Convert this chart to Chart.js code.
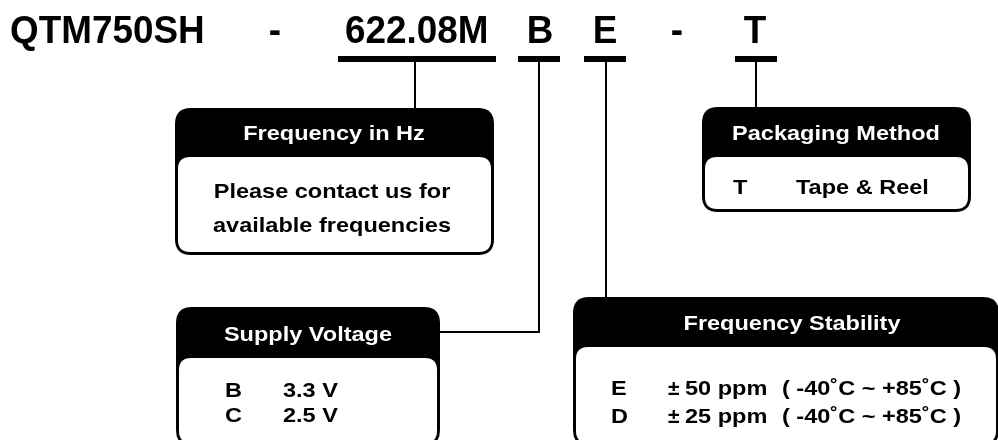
<!DOCTYPE html>
<html>
<head>
<meta charset="utf-8">
<script src="https://cdn.jsdelivr.net/npm/chart.js@4"></script>
<style>
  html, body { margin: 0; padding: 0; background: #fff; }
  #wrap { width: 998px; height: 440px; position: relative; }
</style>
</head>
<body>
<div id="wrap"><canvas id="partChart"></canvas></div>
<script>
// part number pieces
const titleParts = ["QTM750SH", "-", "622.08M", "B", "E", "-", "T"];
const boxTitles = ["Frequency in Hz", "Packaging Method", "Supply Voltage", "Frequency Stability"];
const frequencyNote = ["Please contact us for", "available frequencies"];
const packagingCodes = ["T"];
const packagingNames = ["Tape & Reel"];
const voltageCodes = ["B", "C"];
const voltageValues = [3.3, 2.5];
const stabilityCodes = ["E", "D"];
const stabilityPpm = [50, 25];
const tempRange = [-40, 85];

// geometry, in axis units (x 0..998, y 0..440 from the top)
const layout = {
  titleY: 43,
  titleX: [10, 275, 345, 540, 605, 677, 755],
  titleAlign: ["left", "center", "left", "center", "center", "center", "center"],
  barY: 59,
  bars: [[338, 496], [518, 560], [584, 626], [735, 777]],
  connectors: [
    [[415, 59], [415, 108]],
    [[539, 59], [539, 332], [440, 332]],
    [[606, 59], [606, 297]],
    [[756, 59], [756, 107]]
  ],
  boxes: [
    { x0: 175, x1: 494, y0: 108, yh: 157, y1: 255, cx: 334 },
    { x0: 702, x1: 971, y0: 107, yh: 157, y1: 212, cx: 836 },
    { x0: 176, x1: 440, y0: 307, yh: 358, y1: 446, cx: 308 },
    { x0: 573, x1: 999, y0: 297, yh: 347, y1: 446, cx: 792 }
  ]
};

const FONT = '"Liberation Sans", Arial, sans-serif';

function fmtTemp(v) {
  return (v > 0 ? "+" : "") + v + "˚C";
}

function pathRound(ctx, x, y, w, h, r) {
  ctx.beginPath();
  ctx.moveTo(x + r, y);
  ctx.lineTo(x + w - r, y);
  ctx.quadraticCurveTo(x + w, y, x + w, y + r);
  ctx.lineTo(x + w, y + h - r);
  ctx.quadraticCurveTo(x + w, y + h, x + w - r, y + h);
  ctx.lineTo(x + r, y + h);
  ctx.quadraticCurveTo(x, y + h, x, y + h - r);
  ctx.lineTo(x, y + r);
  ctx.quadraticCurveTo(x, y, x + r, y);
  ctx.closePath();
}

function text(ctx, str, x, y, opts) {
  const o = Object.assign({ size: 21, sx: 1.12, align: "left", color: "#000" }, opts);
  ctx.save();
  ctx.translate(x, y);
  ctx.scale(o.sx, 1);
  ctx.font = "bold " + o.size + "px " + FONT;
  ctx.fillStyle = o.color;
  ctx.textAlign = o.align;
  ctx.textBaseline = "alphabetic";
  ctx.fillText(str, 0, 0);
  ctx.restore();
}

const diagramPlugin = {
  id: "diagram",
  afterDraw(chart) {
    const ctx = chart.ctx;
    const xs = chart.scales.x, ys = chart.scales.y;
    const px = v => xs.getPixelForValue(v);
    const py = v => ys.getPixelForValue(v);

    // part number line
    titleParts.forEach((t, i) => {
      text(ctx, t, px(layout.titleX[i]), py(layout.titleY), { size: 38, sx: 0.97, align: layout.titleAlign[i] });
    });

    // boxes
    layout.boxes.forEach((b, i) => {
      const x0 = px(b.x0), x1 = px(b.x1), y0 = py(b.y0), yh = py(b.yh), y1 = py(b.y1);
      ctx.fillStyle = "#000";
      pathRound(ctx, x0, y0, x1 - x0, y1 - y0, 16);
      ctx.fill();
      ctx.fillStyle = "#fff";
      pathRound(ctx, x0 + 3, yh, x1 - x0 - 6, y1 - yh - 3, 12);
      ctx.fill();
      text(ctx, boxTitles[i], px(b.cx), yh - 17, { color: "#fff", align: "center" });
    });

    // frequency note
    frequencyNote.forEach((line, i) => {
      text(ctx, line, px(332), py(198 + i * 34), { align: "center" });
    });

    // packaging
    packagingCodes.forEach((c, i) => {
      text(ctx, c, px(733), py(194 + i * 26));
      text(ctx, packagingNames[i], px(796), py(194 + i * 26));
    });

    // supply voltage
    voltageCodes.forEach((c, i) => {
      text(ctx, c, px(225), py(397 + i * 25));
      text(ctx, voltageValues[i].toFixed(1) + " V", px(283), py(397 + i * 25));
    });

    // stability
    const range = "( " + (tempRange[0] + "˚C") + " ~ " + fmtTemp(tempRange[1]) + " )";
    stabilityCodes.forEach((c, i) => {
      const y = py(395 + i * 28);
      text(ctx, c, px(611), y);
      text(ctx, "±", px(668), y, { sx: 1.0 });
      text(ctx, stabilityPpm[i] + " ppm", px(685), y);
      text(ctx, range, px(782), y);
    });
  }
};

const datasets = [];
layout.bars.forEach(b => {
  datasets.push({
    data: [{ x: b[0], y: layout.barY }, { x: b[1], y: layout.barY }],
    showLine: true, borderColor: "#000", borderWidth: 6, borderCapStyle: "butt",
    pointRadius: 0
  });
});
layout.connectors.forEach(c => {
  datasets.push({
    data: c.map(p => ({ x: p[0], y: p[1] })),
    showLine: true, borderColor: "#000", borderWidth: 2, borderCapStyle: "butt",
    borderJoinStyle: "miter", pointRadius: 0
  });
});

new Chart(document.getElementById("partChart"), {
  type: "scatter",
  data: { datasets },
  options: {
    responsive: true,
    maintainAspectRatio: false,
    animation: false,
    layout: { padding: 0 },
    plugins: { legend: { display: false }, tooltip: { enabled: false } },
    scales: {
      x: { type: "linear", min: 0, max: 998, display: false },
      y: { type: "linear", min: 0, max: 440, reverse: true, display: false }
    }
  },
  plugins: [diagramPlugin]
});
</script>
</body>
</html>
